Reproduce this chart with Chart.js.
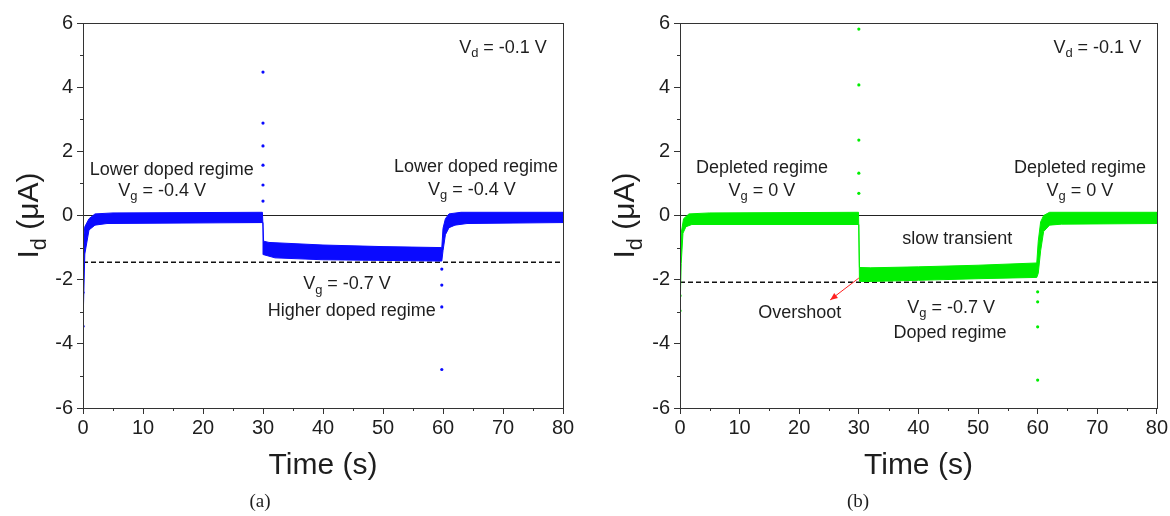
<!DOCTYPE html>
<html>
<head>
<meta charset="utf-8">
<script src="https://cdn.jsdelivr.net/npm/chart.js@4.4.0/dist/chart.umd.min.js"></script>
<style>
  html, body { margin: 0; padding: 0; background: #fff; }
  #wrap { position: relative; width: 1170px; height: 516px; }
  canvas { position: absolute; top: 0; }
  #ca { left: 0; }
  #cb { left: 590px; }
</style>
</head>
<body>
<div id="wrap">
  <canvas id="ca" width="590" height="516"></canvas>
  <canvas id="cb" width="580" height="516"></canvas>
</div>
<script>
// --- panel (a): Vg -0.4 / -0.7 V, band edges
const upperTimeA = [0, 0.3, 1, 2, 5, 29.9, 30.1, 31, 40, 50, 59.8, 60.0, 60.4, 61, 63, 80];
const upperA     = [-0.9, -0.35, -0.1, 0.05, 0.08, 0.1, -0.8, -0.84, -0.92, -0.97, -1.0, -0.4, -0.1, 0.05, 0.1, 0.1];
const lowerTimeA = [0, 0.3, 1, 2, 4, 30, 30.1, 32, 40, 50, 59.8, 60.0, 60.4, 61, 62, 64, 80];
const lowerA     = [-3.4, -1.2, -0.45, -0.3, -0.25, -0.22, -1.22, -1.32, -1.38, -1.4, -1.42, -1.1, -0.6, -0.38, -0.3, -0.25, -0.22];
const dotTimeA   = [0, 0, 30, 30, 30, 30, 30, 30, 59.8, 59.8, 59.8, 59.8];
const dotA       = [-3.45, -2.4, 4.47, 2.88, 2.17, 1.57, 0.95, 0.45, -1.67, -2.17, -2.85, -4.8];
const dashA      = [-1.46, -1.46];

// --- panel (b): Vg 0 / -0.7 V
const upperTimeB = [0, 0.2, 0.6, 1.5, 5, 29.95, 30.1, 32, 40, 50, 59.85, 60.1, 60.5, 61, 62, 80];
const upperB     = [-1.6, -0.55, -0.1, 0.05, 0.08, 0.1, -1.62, -1.63, -1.6, -1.55, -1.48, -0.8, -0.2, 0.0, 0.1, 0.1];
const lowerTimeB = [0, 0.2, 0.5, 1, 2, 30, 30.1, 31, 40, 50, 59.85, 60.1, 60.5, 61, 62, 64, 80];
const lowerB     = [-3.0, -1.5, -0.55, -0.35, -0.28, -0.28, -2.05, -2.06, -2.02, -1.97, -1.93, -1.8, -1.1, -0.5, -0.3, -0.27, -0.25];
const dotTimeB   = [0, 0, 30, 30, 30, 30, 30, 60, 60, 60, 60];
const dotB       = [-2.97, -2.5, 5.81, 4.07, 2.35, 1.32, 0.69, -2.38, -2.69, -3.47, -5.13];
const dashB      = [-2.08, -2.08];

// reference lines
const refTime  = [0, 80];
const zeroLine = [0, 0];

const SANS = "'Liberation Sans', Arial, sans-serif";
const SERIF = "'Liberation Serif', 'Times New Roman', serif";
const INK = '#1e1e1e';

const pts = (xs, ys) => xs.map((t, i) => ({ x: t, y: ys[i] }));
// band outline: upper edge forward, lower edge back
const band = (tu, u, tl, l) => pts(tu, u).concat(pts(tl, l).reverse());

// text with "_x" subscripts, centred at (cx, cy)
const richText = (ctx, str, cx, cy, size) => {
    const parts = str.split(/_(\w)/);
    const sub = size * 0.72;
    let w = 0;
    parts.forEach((p, i) => {
        ctx.font = `${i % 2 ? sub : size}px ${SANS}`;
        w += ctx.measureText(p).width;
    });
    let x = cx - w / 2;
    ctx.textBaseline = 'middle';
    ctx.textAlign = 'left';
    parts.forEach((p, i) => {
        const isSub = i % 2 === 1;
        ctx.font = `${isSub ? sub : size}px ${SANS}`;
        ctx.fillText(p, x, cy + (isSub ? size * 0.32 : 0));
        x += ctx.measureText(p).width;
    });
};

const deco = {
    id: 'deco',
    afterDraw(chart) {
        const o = chart.options.plugins.deco;
        const { ctx, chartArea: a, scales: { x, y } } = chart;
        ctx.save();
        ctx.strokeStyle = '#333';
        ctx.lineWidth = 1;
        // minor ticks
        ctx.beginPath();
        for (let v = -5; v <= 5; v += 2) {
            const py = Math.round(y.getPixelForValue(v)) + 0.5;
            ctx.moveTo(a.left - 3, py); ctx.lineTo(a.left, py);
        }
        for (let t = 5; t < 80; t += 10) {
            const px = Math.round(x.getPixelForValue(t)) + 0.5;
            ctx.moveTo(px, a.bottom); ctx.lineTo(px, a.bottom + 3);
        }
        ctx.stroke();
        // frame
        ctx.strokeRect(Math.round(a.left) + 0.5, Math.round(a.top) + 0.5, Math.round(a.width), Math.round(a.height));

        ctx.fillStyle = INK;
        // annotations placed in data units
        o.notes.forEach(n => richText(ctx, n.text, x.getPixelForValue(n.t), y.getPixelForValue(n.v), 18));

        // arrow
        if (o.arrow) {
            const x0 = x.getPixelForValue(o.arrow[0]), y0 = y.getPixelForValue(o.arrow[1]);
            const x1 = x.getPixelForValue(o.arrow[2]), y1 = y.getPixelForValue(o.arrow[3]);
            const ang = Math.atan2(y1 - y0, x1 - x0);
            ctx.strokeStyle = '#ff2020';
            ctx.fillStyle = '#ff2020';
            ctx.beginPath(); ctx.moveTo(x0, y0); ctx.lineTo(x1, y1); ctx.stroke();
            ctx.beginPath();
            ctx.moveTo(x1, y1);
            ctx.lineTo(x1 - 8 * Math.cos(ang - 0.4), y1 - 8 * Math.sin(ang - 0.4));
            ctx.lineTo(x1 - 8 * Math.cos(ang + 0.4), y1 - 8 * Math.sin(ang + 0.4));
            ctx.closePath(); ctx.fill();
            ctx.fillStyle = INK;
        }

        // axis titles
        ctx.save();
        ctx.translate(o.yTitleX, (a.top + a.bottom) / 2);
        ctx.rotate(-Math.PI / 2);
        richText(ctx, 'I_d (\u03bcA)', 0, 0, 30);
        ctx.restore();
        ctx.font = `30px ${SANS}`;
        ctx.textAlign = 'center';
        ctx.textBaseline = 'middle';
        ctx.fillText('Time (s)', (a.left + a.right) / 2, 466);
        ctx.font = `19px ${SERIF}`;
        ctx.fillText(o.label, o.labelX, 502);
        ctx.restore();
    }
};

const makeChart = (id, p) => new Chart(document.getElementById(id), {
    type: 'scatter',
    data: {
        datasets: [
            { data: pts(refTime, zeroLine), showLine: true, borderColor: '#222', borderWidth: 1, pointRadius: 0, order: 5 },
            { data: pts(refTime, p.dash), showLine: true, borderColor: '#111', borderWidth: 1.5, borderDash: [5, 3], pointRadius: 0, order: 4 },
            { data: band(p.tu, p.u, p.tl, p.l), showLine: true, fill: 'shape', backgroundColor: p.color, borderColor: p.color, borderWidth: 1, pointRadius: 0, tension: 0, order: 3 },
            { data: pts(p.td, p.d), showLine: false, backgroundColor: p.color, borderColor: p.color, pointRadius: 1.6, borderWidth: 0, order: 2 }
        ]
    },
    options: {
        responsive: false,
        animation: false,
        layout: { padding: { top: 23, right: p.padRight, left: 0, bottom: 0 } },
        plugins: {
            legend: { display: false },
            tooltip: { enabled: false },
            deco: { notes: p.notes, arrow: p.arrow, yTitleX: p.yTitleX, label: p.label, labelX: p.labelX }
        },
        scales: {
            x: {
                type: 'linear', min: 0, max: 80,
                afterFit: s => { s.height = 108; },
                ticks: { stepSize: 5, autoSkip: false, maxRotation: 0, padding: 2, color: INK,
                    font: { family: SANS, size: 20 },
                    callback: v => (v % 10 === 0 ? v : '') },
                grid: { drawOnChartArea: false, tickLength: 6,
                    tickColor: c => (c.tick && c.tick.value % 10 === 0 ? '#333' : 'rgba(0,0,0,0)') },
                border: { color: '#333', width: 1 }
            },
            y: {
                type: 'linear', min: -6, max: 6,
                afterFit: s => { s.width = p.leftW; },
                ticks: { stepSize: 1, autoSkip: false, padding: 4, color: INK,
                    font: { family: SANS, size: 20 },
                    callback: v => (v % 2 === 0 ? v : '') },
                grid: { drawOnChartArea: false, tickLength: 6,
                    tickColor: c => (c.tick && c.tick.value % 2 === 0 ? '#333' : 'rgba(0,0,0,0)') },
                border: { color: '#333', width: 1 }
            }
        }
    },
    plugins: [deco]
});

makeChart('ca', {
    tu: upperTimeA, u: upperA, tl: lowerTimeA, l: lowerA, td: dotTimeA, d: dotA, dash: dashA,
    color: '#0a0aff', leftW: 83, padRight: 27, yTitleX: 30, label: '(a)', labelX: 260,
    notes: [
        { text: 'Lower doped regime', t: 14.8, v: 1.42 },
        { text: 'V_g = -0.4 V', t: 13.2, v: 0.76 },
        { text: 'V_d = -0.1 V', t: 70, v: 5.22 },
        { text: 'Lower doped regime', t: 65.5, v: 1.51 },
        { text: 'V_g = -0.4 V', t: 64.8, v: 0.8 },
        { text: 'V_g = -0.7 V', t: 44, v: -2.15 },
        { text: 'Higher doped regime', t: 44.8, v: -2.98 }
    ]
});

makeChart('cb', {
    tu: upperTimeB, u: upperB, tl: lowerTimeB, l: lowerB, td: dotTimeB, d: dotB, dash: dashB,
    color: '#00ee00', leftW: 90, padRight: 13, yTitleX: 36, label: '(b)', labelX: 268,
    arrow: [30.0, -1.95, 25.2, -2.63],
    notes: [
        { text: 'Depleted regime', t: 13.75, v: 1.48 },
        { text: 'V_g = 0 V', t: 13.75, v: 0.76 },
        { text: 'V_d = -0.1 V', t: 70, v: 5.22 },
        { text: 'Depleted regime', t: 67.1, v: 1.48 },
        { text: 'V_g = 0 V', t: 67.1, v: 0.76 },
        { text: 'slow transient', t: 46.5, v: -0.73 },
        { text: 'Overshoot', t: 20.1, v: -3.03 },
        { text: 'V_g = -0.7 V', t: 45.5, v: -2.88 },
        { text: 'Doped regime', t: 45.3, v: -3.65 }
    ]
});
</script>
</body>
</html>
